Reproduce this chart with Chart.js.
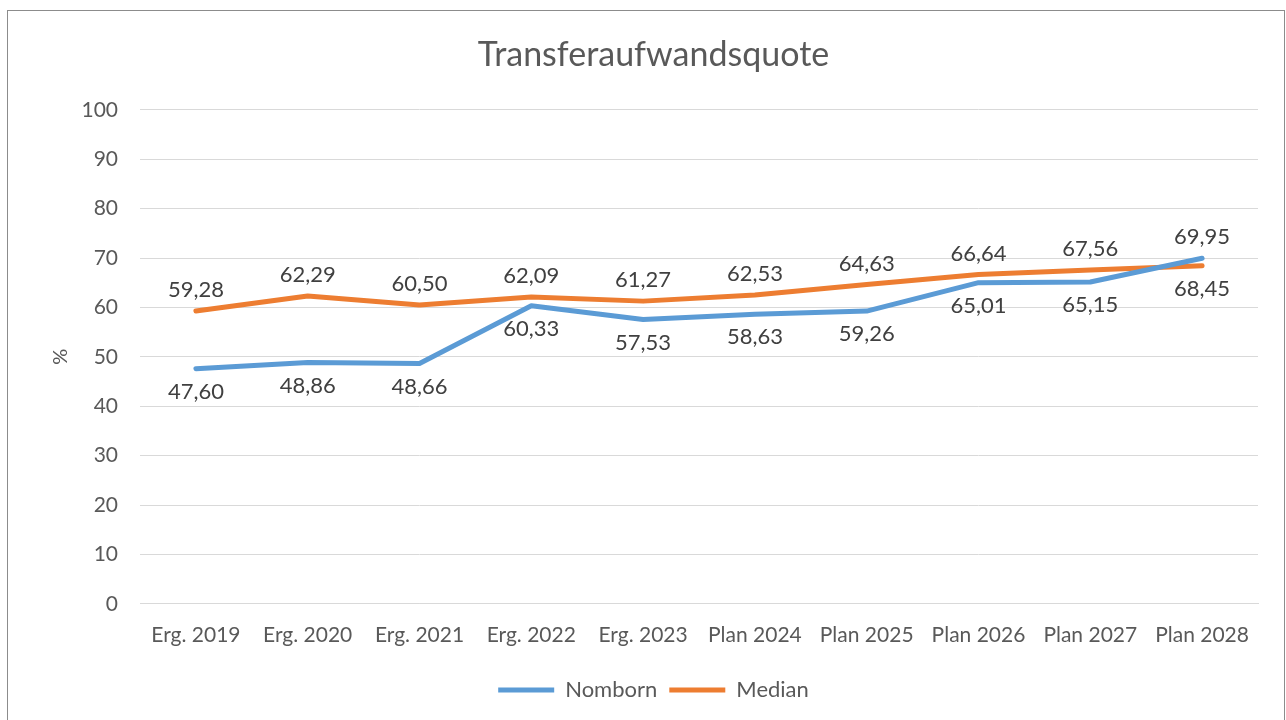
<!DOCTYPE html>
<html>
<head>
<meta charset="utf-8">
<script src="https://cdn.jsdelivr.net/npm/chart.js@4/dist/chart.umd.min.js"></script>
<style>
  body { margin: 0; background: #fff; }
  #box { position: absolute; left: 7px; top: 10px; width: 1276px; height: 720px; border: 1px solid #8c8c8c; }
  #wrap { width: 1276px; height: 709px; }
</style>
</head>
<body>
<div id="box"><div id="wrap"><canvas id="chart"></canvas></div></div>
<script>
const jahre = ['Erg. 2019', 'Erg. 2020', 'Erg. 2021', 'Erg. 2022', 'Erg. 2023', 'Plan 2024', 'Plan 2025', 'Plan 2026', 'Plan 2027', 'Plan 2028'];
const nomborn = [47.60, 48.86, 48.66, 60.33, 57.53, 58.63, 59.26, 65.01, 65.15, 69.95];
const median = [59.28, 62.29, 60.50, 62.09, 61.27, 62.53, 64.63, 66.64, 67.56, 68.45];

const schrift = 'Lato, "Open Sans", sans-serif';
const grau = '#595959';

const fmt = (v) => v.toFixed(2).replace('.', ',');

// Werte an die Linien schreiben (blau unten, orange oben; letzter Punkt getauscht)
const wertePlugin = {
    id: 'werte',
    afterDatasetsDraw(chart) {
        const ctx = chart.ctx;
        ctx.save();
        ctx.font = '22px ' + schrift;
        ctx.fillStyle = '#404040';
        ctx.textAlign = 'center';
        ctx.textBaseline = 'middle';
        chart.data.datasets.forEach((ds, i) => {
            const meta = chart.getDatasetMeta(i);
            meta.data.forEach((pt, j) => {
                let oben = i === 1;
                if (j === ds.data.length - 1) oben = !oben;
                const dy = oben ? -21 : 23;
                ctx.fillText(fmt(ds.data[j]), pt.x, pt.y + dy);
            });
        });
        ctx.restore();
    }
};

new Chart(document.getElementById('chart'), {
    type: 'line',
    data: {
        labels: jahre,
        datasets: [
            { label: 'Nomborn', data: nomborn, borderColor: '#5b9bd5', backgroundColor: '#5b9bd5', borderWidth: 5, pointRadius: 0, tension: 0, borderCapStyle: 'round', borderJoinStyle: 'round' },
            { label: 'Median', data: median, borderColor: '#ed7d31', backgroundColor: '#ed7d31', borderWidth: 5, pointRadius: 0, tension: 0, borderCapStyle: 'round', borderJoinStyle: 'round' }
        ]
    },
    options: {
        responsive: true,
        maintainAspectRatio: false,
        animation: false,
        layout: { padding: { left: 41, right: 26, top: 0, bottom: 9 } },
        plugins: {
            title: {
                display: true,
                text: 'Transferaufwandsquote',
                color: grau,
                font: { family: schrift, size: 34, weight: 'normal' },
                padding: { top: 24, bottom: 34 }
            },
            legend: {
                position: 'bottom',
                labels: {
                    color: grau,
                    font: { family: schrift, size: 22 },
                    usePointStyle: true,
                    pointStyle: 'line',
                    pointStyleWidth: 56,
                    boxHeight: 5,
                    padding: 12
                }
            },
            tooltip: { enabled: false }
        },
        scales: {
            x: {
                offset: true,
                grid: { display: false, drawTicks: false },
                border: { display: true, color: '#d9d9d9', width: 1 },
                ticks: { color: grau, font: { family: schrift, size: 21 }, padding: 19, maxRotation: 0 }
            },
            y: {
                min: 0,
                max: 100,
                afterFit: (s) => { s.width = 91; },
                grid: { color: '#d9d9d9', lineWidth: 1, drawTicks: false },
                border: { display: false },
                ticks: { stepSize: 10, color: grau, font: { family: schrift, size: 21 }, padding: 22 },
                title: { display: true, text: '%', color: grau, font: { family: schrift, size: 20 }, padding: 0 }
            }
        }
    },
    plugins: [wertePlugin]
});
</script>
</body>
</html>
